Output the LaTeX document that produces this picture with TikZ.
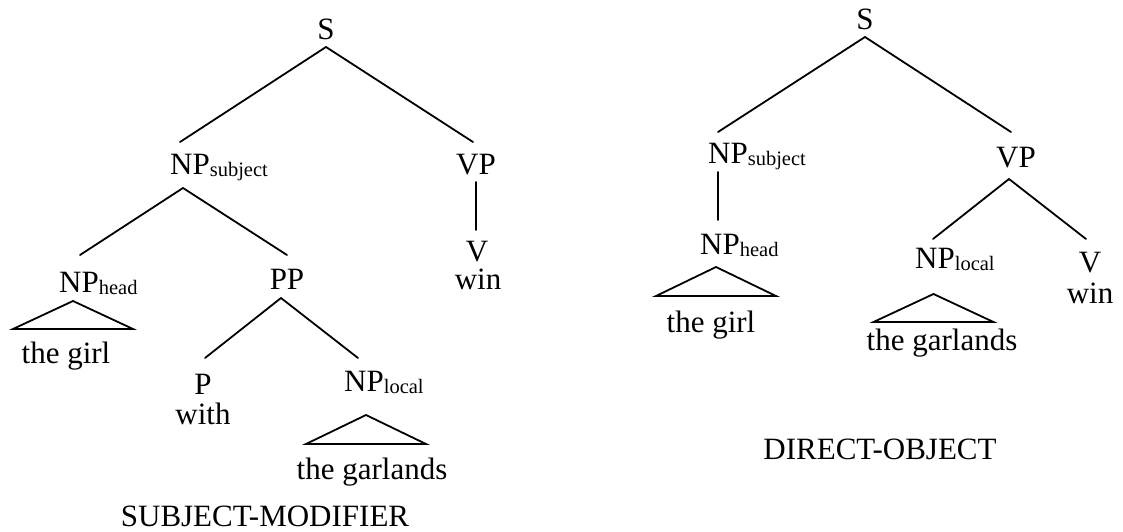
\documentclass[tikz,border=0pt]{standalone}
\usepackage{fontspec}
\setmainfont{Liberation Serif}
% category label with a lowered, smaller subscript that does not widen the node
\newcommand\catsub[1]{\rlap{\raisebox{-2.5pt}{\fontsize{20.5}{22}\selectfont #1}}}
\tikzset{
  lbl/.style={inner sep=0pt, anchor=base, font=\fontsize{31}{36}\selectfont},
  branch/.style={line width=1.8pt, line cap=round},
  roof/.style={line width=1.8pt, line join=miter}
}
\begin{document}
\begin{tikzpicture}[x=1pt, y=-1pt]
\useasboundingbox (0,0) rectangle (1123,532);

% ---------- subject-modifier reading ----------
\node[lbl] (S1)    at (326,40)  {S};
\node[lbl] (NPs1)  at (190,174) {NP\catsub{subject}};
\node[lbl] (VP1)   at (476,174) {VP};
\node[lbl] (V1)    at (477,261) {V};
\node[lbl] (win1)  at (478,289) {win};
\node[lbl] (NPh1)  at (79,292)  {NP\catsub{head}};
\node[lbl] (girl1) at (66,363)  {the girl};
\node[lbl] (PP1)   at (287,289) {PP};
\node[lbl] (P1)    at (203,394) {P};
\node[lbl] (with1) at (203,424) {with};
\node[lbl] (NPl1)  at (364,391) {NP\catsub{local}};
\node[lbl] (garl1) at (372,479) {the garlands};
\node[lbl] (cap1)  at (265,526) {SUBJECT-MODIFIER};

\draw[branch] ([yshift=-7pt]S1.base) -- ([xshift=-10pt,yshift=32pt]NPs1.base);
\draw[branch] ([yshift=-7pt]S1.base) -- ([xshift=-3pt,yshift=32pt]VP1.base);
\draw[branch] ([yshift=-8pt]VP1.base) -- ([xshift=-1pt,yshift=31pt]V1.base);
\draw[branch] ([xshift=-7pt,yshift=-14pt]NPs1.base) -- ([xshift=1pt,yshift=37pt]NPh1.base);
\draw[branch] ([xshift=-7pt,yshift=-14pt]NPs1.base) -- ([yshift=34pt]PP1.base);
\draw[branch] ([xshift=-6pt,yshift=-9pt]PP1.base) -- ([xshift=2pt,yshift=36pt]P1.base);
\draw[branch] ([xshift=-6pt,yshift=-9pt]PP1.base) -- ([xshift=-6pt,yshift=33pt]NPl1.base);
\draw[roof] ([xshift=-6pt,yshift=-9pt]NPh1.base) -- ([xshift=-66pt,yshift=-37pt]NPh1.base)
  -- ([xshift=54pt,yshift=-37pt]NPh1.base) -- cycle;
\draw[roof] ([xshift=2pt,yshift=-24pt]NPl1.base) -- ([xshift=-58pt,yshift=-53pt]NPl1.base)
  -- ([xshift=62pt,yshift=-53pt]NPl1.base) -- cycle;

% ---------- direct-object reading ----------
\node[lbl] (S2)    at (865,30)  {S};
\node[lbl] (NPs2)  at (728,163) {NP\catsub{subject}};
\node[lbl] (NPh2)  at (720,254) {NP\catsub{head}};
\node[lbl] (girl2) at (711,332) {the girl};
\node[lbl] (VP2)   at (1016,167) {VP};
\node[lbl] (NPl2)  at (935,268) {NP\catsub{local}};
\node[lbl] (V2)    at (1090,272) {V};
\node[lbl] (win2)  at (1090,303) {win};
\node[lbl] (garl2) at (942,350) {the garlands};
\node[lbl] (cap2)  at (880,459) {DIRECT-OBJECT};

\draw[branch] ([yshift=-7pt]S2.base) -- ([xshift=-10pt,yshift=31pt]NPs2.base);
\draw[branch] ([yshift=-7pt]S2.base) -- ([xshift=-5pt,yshift=35pt]VP2.base);
\draw[branch] ([xshift=-10pt,yshift=-9pt]NPs2.base) -- ([xshift=-2pt,yshift=34pt]NPh2.base);
\draw[branch] ([xshift=-7pt,yshift=-12pt]VP2.base) -- ([xshift=-2pt,yshift=29pt]NPl2.base);
\draw[branch] ([xshift=-7pt,yshift=-12pt]VP2.base) -- ([xshift=-4pt,yshift=33pt]V2.base);
\draw[roof] ([xshift=-4pt,yshift=-13pt]NPh2.base) -- ([xshift=-64pt,yshift=-42pt]NPh2.base)
  -- ([xshift=56pt,yshift=-42pt]NPh2.base) -- cycle;
\draw[roof] ([xshift=-1.5pt,yshift=-26pt]NPl2.base) -- ([xshift=-61.5pt,yshift=-54pt]NPl2.base)
  -- ([xshift=58.5pt,yshift=-54pt]NPl2.base) -- cycle;
\end{tikzpicture}
\end{document}
